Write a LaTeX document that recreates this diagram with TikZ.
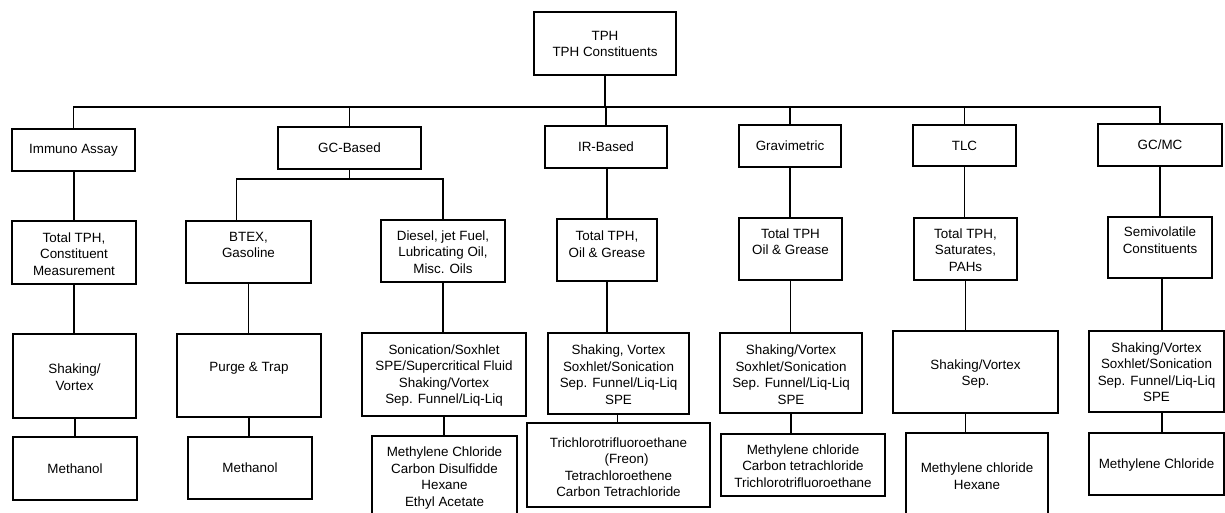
\documentclass[tikz,border=0pt]{standalone}
\usepackage{fontspec}
\setmainfont{Liberation Sans}
\usetikzlibrary{fit}
\tikzset{
  box/.style={draw, line width=1.2pt, inner sep=0pt},
  txt/.style={align=center, inner sep=0pt, font=\fontsize{13.4}{16.5}\selectfont},
  link/.style={line width=1.1pt},
}
\newcommand\mkbox[7]{%
  \node[box, fit={(#2,#3)(#4,#5)}] (#1) {};
  \node[txt] (#1t) at ({(#2+#4)/2},#6) {#7};
}
\begin{document}
\begin{tikzpicture}[x=1pt,y=-1pt]
\useasboundingbox (0,0) rectangle (1225,513);
\clip (0,0) rectangle (1225,513);
\coordinate (bar) at (0,107);
\coordinate (gsub) at (0,179);
% level 0
\mkbox{tph}{534}{12}{676}{75}{44}{TPH\\TPH Constituents}
% level 1
\mkbox{imm}{12}{129}{135}{171}{150}{Immuno Assay}
\mkbox{gcb}{278}{127}{421}{169}{148}{GC-Based}
\mkbox{irb}{545}{126}{667}{168}{147}{IR-Based}
\mkbox{grv}{739}{125}{841}{167}{146}{Gravimetric}
\mkbox{tlc}{913}{125}{1016}{166}{146}{TLC}
\mkbox{gcmc}{1098}{124}{1222}{166}{145}{GC/MC}
% level 2
\mkbox{imm2}{12}{221}{136}{284}{254}{Total TPH,\\Constituent\\Measurement}
\mkbox{btex}{186}{221}{311}{283}{245}{BTEX,\\Gasoline}
\mkbox{dies}{381}{220}{505}{282}{252}{Diesel, jet Fuel,\\Lubricating Oil,\\Misc. Oils}
\mkbox{ir2}{557}{219}{657}{281}{244}{Total TPH,\\Oil \& Grease}
\mkbox{grv2}{739}{218}{842}{280}{241.5}{Total TPH\\Oil \& Grease}
\mkbox{tlc2}{914}{218}{1017}{280}{250}{Total TPH,\\Saturates,\\PAHs}
\mkbox{semi}{1108}{217}{1212}{278}{240}{Semivolatile\\Constituents}
% level 3
\mkbox{imm3}{13}{334}{136}{418}{377}{Shaking/\\Vortex}
\mkbox{pt}{177}{334}{321}{417}{368}{Purge \& Trap}
\mkbox{son}{362}{333}{526}{416}{375.5}{Sonication/Soxhlet\\SPE/Supercritical Fluid\\Shaking/Vortex\\Sep. Funnel/Liq-Liq}
\mkbox{ir3}{548}{333}{689}{414}{374.5}{Shaking, Vortex\\Soxhlet/Sonication\\Sep. Funnel/Liq-Liq\\SPE}
\mkbox{grv3}{720}{333}{862}{413}{374.5}{Shaking/Vortex\\Soxhlet/Sonication\\Sep. Funnel/Liq-Liq\\SPE}
\mkbox{tlc3}{893}{331}{1058}{413}{374}{Shaking/Vortex\\Sep.}
\mkbox{gcmc3}{1089}{331}{1224}{412}{372}{Shaking/Vortex\\Soxhlet/Sonication\\Sep. Funnel/Liq-Liq\\SPE}
% level 4
\mkbox{imm4}{13}{437}{137}{500}{469}{Methanol}
\mkbox{pt4}{188}{437}{312}{499}{468}{Methanol}
\mkbox{son4}{372}{436}{517}{522}{478}{Methylene Chloride\\Carbon Disulfidde\\Hexane\\Ethyl Acetate}
\mkbox{ir4}{527}{423}{710}{507}{467}{Trichlorotrifluoroethane\\\hspace*{16pt}(Freon)\\Tetrachloroethene\\Carbon Tetrachloride}
\mkbox{grv4}{721}{434}{885}{496}{466}{Methylene chloride\\Carbon tetrachloride\\Trichlorotrifluoroethane}
\mkbox{tlc4}{906}{433}{1048}{522}{476}{Methylene chloride\\Hexane}
\mkbox{gcmc4}{1089}{433}{1224}{495}{465}{Methylene Chloride}
% connectors level 0-1
\draw[link] (tph.south) -- (tph.south |- bar);
\draw[link] (imm.north) -- (imm.north |- bar) -- (gcmc.north |- bar) -- (gcmc.north);
\draw[link] (gcb.north) -- (gcb.north |- bar);
\draw[link] (irb.north) -- (irb.north |- bar);
\draw[link] (grv.north) -- (grv.north |- bar);
\draw[link] (tlc.north) -- (tlc.north |- bar);
% immuno
\draw[link] (imm2.north |- imm.south) -- (imm2.north);
\draw[link] (imm2.south) -- (imm2.south |- imm3.north);
\draw[link] (imm4.north |- imm3.south) -- (imm4.north);
% GC based
\draw[link] (gcb.south) -- (gcb.south |- gsub);
\draw[link] ([xshift=-12pt]btex.north) -- ([xshift=-12pt]btex.north |- gsub) -- (dies.north |- gsub) -- (dies.north);
\draw[link] (btex.south) -- (btex.south |- pt.north);
\draw[link] (pt.south) -- (pt.south |- pt4.north);
\draw[link] (dies.south) -- (dies.south |- son.north);
\draw[link] (son.south) -- (son.south |- son4.north);
% IR
\draw[link] (ir2.north |- irb.south) -- (ir2.north);
\draw[link] (ir2.south) -- (ir2.south |- ir3.north);
\draw[link] ([xshift=-1pt]ir3.south) -- ([xshift=-1pt]ir3.south |- ir4.north);
% gravimetric
\draw[link] (grv.south) -- (grv.south |- grv2.north);
\draw[link] (grv2.south) -- (grv2.south |- grv3.north);
\draw[link] (grv3.south) -- (grv3.south |- grv4.north);
% TLC
\draw[link] (tlc.south) -- (tlc.south |- tlc2.north);
\draw[link] (tlc2.south) -- (tlc2.south |- tlc3.north);
\draw[link] (tlc2.south |- tlc3.south) -- (tlc2.south |- tlc4.north);
% GC/MC
\draw[link] (semi.north |- gcmc.south) -- (semi.north);
\draw[link] ([xshift=2pt]semi.south) -- ([xshift=2pt]semi.south |- gcmc3.north);
\draw[link] ([xshift=2pt]semi.south |- gcmc3.south) -- ([xshift=2pt]semi.south |- gcmc4.north);
\end{tikzpicture}
\end{document}
